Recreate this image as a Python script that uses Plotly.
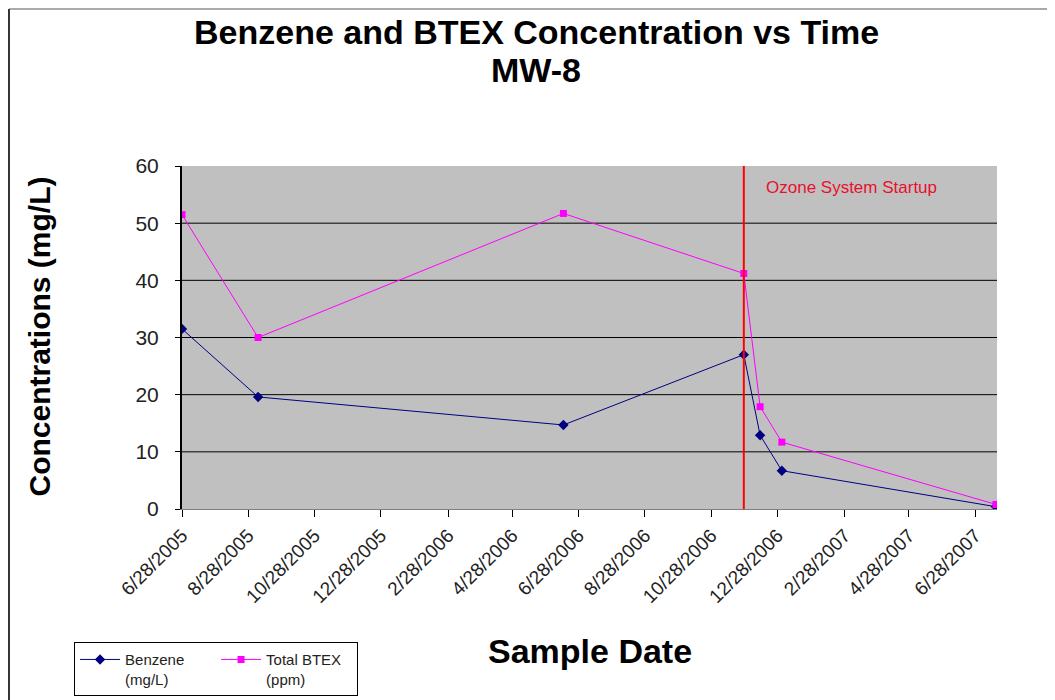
import plotly.graph_objects as go

# ---- data ----
sample_dates = ["2005-06-28", "2005-09-06", "2006-06-14", "2006-11-27",
                "2006-12-12", "2007-01-01", "2007-07-17"]
benzene = [31.5, 19.6, 14.7, 27.0, 12.9, 6.7, 0.4]
total_btex = [51.5, 30.0, 51.7, 41.2, 17.9, 11.7, 0.8]

startup_date = "2006-11-27"
startup_label = "Ozone System Startup"

title_line1 = "Benzene and BTEX Concentration vs Time"
title_line2 = "MW-8"

tick_dates = ["2005-06-28", "2005-08-28", "2005-10-28", "2005-12-28",
              "2006-02-28", "2006-04-28", "2006-06-28", "2006-08-28",
              "2006-10-28", "2006-12-28", "2007-02-28", "2007-04-28",
              "2007-06-28"]
tick_labels = ["6/28/2005", "8/28/2005", "10/28/2005", "12/28/2005",
               "2/28/2006", "4/28/2006", "6/28/2006", "8/28/2006",
               "10/28/2006", "12/28/2006", "2/28/2007", "4/28/2007",
               "6/28/2007"]
y_ticks = [0, 10, 20, 30, 40, 50, 60]
grid_levels = [10, 20, 30, 40, 50]

FONT = "Liberation Sans, Arial, sans-serif"

fig = go.Figure()
fig.add_trace(go.Scatter(
    x=sample_dates, y=benzene, mode="lines+markers",
    name="Benzene<br>(mg/L)",
    line=dict(color="#000080", width=1),
    marker=dict(symbol="diamond", size=8, color="#000080"),
))
fig.add_trace(go.Scatter(
    x=sample_dates, y=total_btex, mode="lines+markers",
    name="Total BTEX<br>(ppm)",
    line=dict(color="#FF00FF", width=1),
    marker=dict(symbol="square", size=7, color="#FF00FF"),
))

shapes = []
for g in grid_levels:
    shapes.append(dict(type="line", xref="paper", x0=0, x1=1, yref="y", y0=g, y1=g,
                       line=dict(color="black", width=1), layer="below"))
# startup vertical line
shapes.append(dict(type="line", xref="x", x0=startup_date, x1=startup_date,
                   yref="paper", y0=0, y1=1, line=dict(color="#FF0000", width=2)))
# outer chart frame (top and left)
shapes.append(dict(type="line", xref="paper", yref="paper", x0=-0.2123, x1=1.08,
                   y0=1.458, y1=1.458, line=dict(color="#AAAAAA", width=2)))
shapes.append(dict(type="line", xref="paper", yref="paper", x0=-0.2123, x1=-0.2123,
                   y0=1.458, y1=-0.58, line=dict(color="#333333", width=2)))

annotations = [
    dict(text="<b>" + title_line1 + "</b>", xref="paper", x=0.4344, xanchor="center",
         yref="paper", y=1.3907, yanchor="middle", showarrow=False,
         font=dict(family=FONT, size=34, color="black")),
    dict(text="<b>" + title_line2 + "</b>", xref="paper", x=0.4344, xanchor="center",
         yref="paper", y=1.2799, yanchor="middle", showarrow=False,
         font=dict(family=FONT, size=34, color="black")),
    dict(text=startup_label, xref="x", x=startup_date, xshift=20, xanchor="left",
         yref="y", y=56.3, yanchor="middle", showarrow=False,
         font=dict(family=FONT, size=17, color="#E8102E")),
    dict(text="<b>Concentrations (mg/L)</b>", textangle=-90, xref="paper", x=-0.175,
         xanchor="center", yref="paper", y=0.504, yanchor="middle", showarrow=False,
         font=dict(family=FONT, size=30, color="black")),
    dict(text="<b>Sample Date</b>", xref="paper", x=0.5, xanchor="center",
         yref="paper", y=-0.414, yanchor="middle", showarrow=False,
         font=dict(family=FONT, size=34, color="black")),
]

fig.update_layout(
    width=1055, height=700,
    margin=dict(l=174, r=66, t=158, b=199),
    paper_bgcolor="white",
    plot_bgcolor="#C0C0C0",
    font=dict(family=FONT, color="black"),
    showlegend=True,
    legend=dict(orientation="h", xref="container", yref="container",
                x=0.0626, y=0.094, xanchor="left", yanchor="top",
                bordercolor="black", borderwidth=1, bgcolor="white",
                font=dict(family=FONT, size=15, color="#222222"),
                itemwidth=40, entrywidth=86, valign="top", tracegroupgap=0),
    shapes=shapes,
    annotations=annotations,
)

fig.update_xaxes(
    type="date", range=["2005-06-28", "2007-07-18"],
    tickvals=tick_dates, ticktext=tick_labels, tickangle=-45,
    tickfont=dict(family=FONT, size=19, color="#222222"),
    ticks="outside", ticklen=7, tickcolor="black", tickwidth=1,
    showgrid=False, zeroline=False,
    showline=True, linecolor="#808080", linewidth=1,
)
fig.update_yaxes(
    range=[0, 60], tickvals=y_ticks,
    tickfont=dict(family=FONT, size=21, color="#222222"),
    ticks="outside", ticklen=5, tickcolor="black", tickwidth=1,
    ticklabelstandoff=12,
    showgrid=False, zeroline=False,
    showline=True, linecolor="black", linewidth=2,
)

fig.write_html("out.html")
